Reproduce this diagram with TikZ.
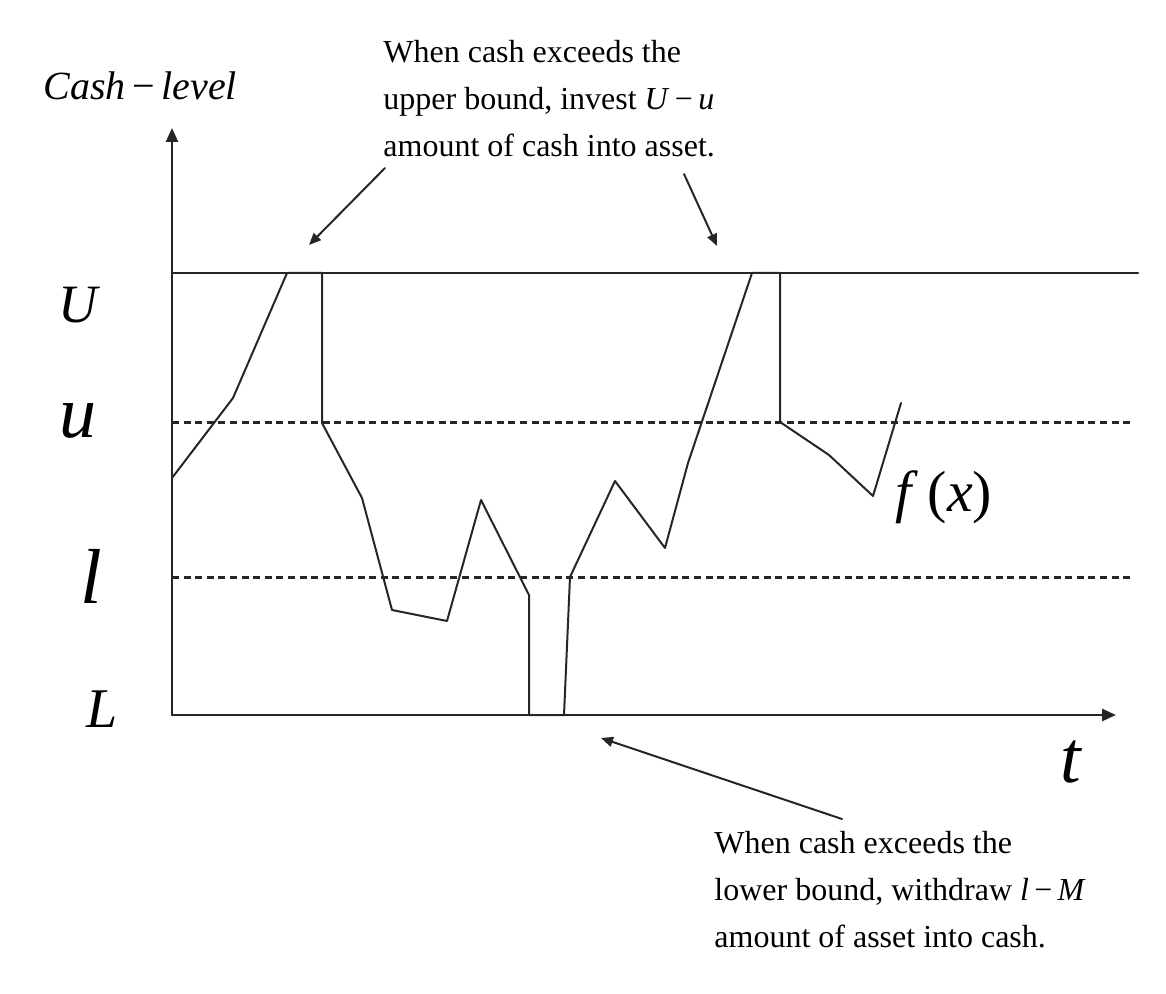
\documentclass[tikz,border=0pt]{standalone}
\usepackage{fontspec}
\setmainfont{Liberation Serif}
\usetikzlibrary{arrows.meta}
\definecolor{Ink}{RGB}{38,38,38}

\begin{document}
\begin{tikzpicture}[x=0.5pt,y=-0.5pt,line cap=round,line join=round,
  axis/.style={line width=1.25pt,draw=Ink,-{Triangle[length=7pt,width=6pt]}},
  bound/.style={line width=1.1pt,draw=Ink},
  level/.style={line width=1.5pt,draw=Ink,line cap=butt,dash pattern=on 3.5pt off 2.3pt},
  cash/.style={line width=1pt,draw=Ink},
  note/.style={line width=1pt,draw=Ink,-{Triangle[length=6pt,width=5pt]}},
  lbl/.style={anchor=base west,inner sep=0pt,text=black},
  remark/.style={anchor=north west,inner sep=0pt,align=left,font=\fontsize{16}{23.5}\selectfont}]
\path[use as bounding box] (0,0) rectangle (1166,994);
\coordinate (O) at (172,715);
\coordinate (ytop) at (172,128);
\coordinate (xend) at (1116,715);
\draw[axis] (O) -- (ytop);
\draw[axis] (O) -- (xend);
\draw[bound] (172,273) -- (1138,273);
\draw[level] (172,422) -- (1133,422);
\draw[level] (172,577) -- (1133,577);
\draw[cash] (172,478) -- (233,398) -- (287,273) -- (322,273) -- (322,423) -- (362,498) -- (392,610) -- (447,621) -- (481,500) -- (529,595) -- (529,715) -- (564,715) -- (570,577) -- (615,481) -- (665,548) -- (688,463) -- (752,273) -- (780,273) -- (780,422) -- (829,455) -- (873,496) -- (901,403);
\node[lbl,font=\fontsize{20}{22}\selectfont] (ylabel) at (43,100) {\textit{Cash}\,−\,\textit{level}};
\node[lbl,font=\fontsize{27}{30}\selectfont] (Ulbl) at (58,322) {\textit{U}};
\node[lbl,font=\fontsize{37}{40}\selectfont] (ulbl) at (59,437) {\textit{u}};
\node[lbl,font=\fontsize{39}{40}\selectfont] (llbl) at (80,603) {\textit{l}};
\node[lbl,font=\fontsize{28}{30}\selectfont] (Llbl) at (86,727) {\textit{L}};
\node[lbl,font=\fontsize{37}{40}\selectfont] (tlbl) at (1060,782) {\textit{t}};
\node[lbl,font=\fontsize{29}{30}\selectfont] (flbl) at (895,511) {\textit{f}\,(\textit{x})};
\node[remark] (upnote) at (383,40) {When cash exceeds the\\upper bound, invest \textit{U}\,−\,\textit{u}\\amount of cash into asset.};
\node[remark] (lownote) at (714,831) {When cash exceeds the\\lower bound, withdraw \textit{l}\,−\,\textit{M}\\amount of asset into cash.};
\coordinate (upA) at (385,168);
\coordinate (upAtip) at (309,245);
\coordinate (upB) at (684,174);
\coordinate (upBtip) at (717,246);
\coordinate (lowA) at (842,819);
\coordinate (lowAtip) at (601,738);
\draw[note] (upA) -- (upAtip);
\draw[note] (upB) -- (upBtip);
\draw[note] (lowA) -- (lowAtip);
\end{tikzpicture}
\end{document}
